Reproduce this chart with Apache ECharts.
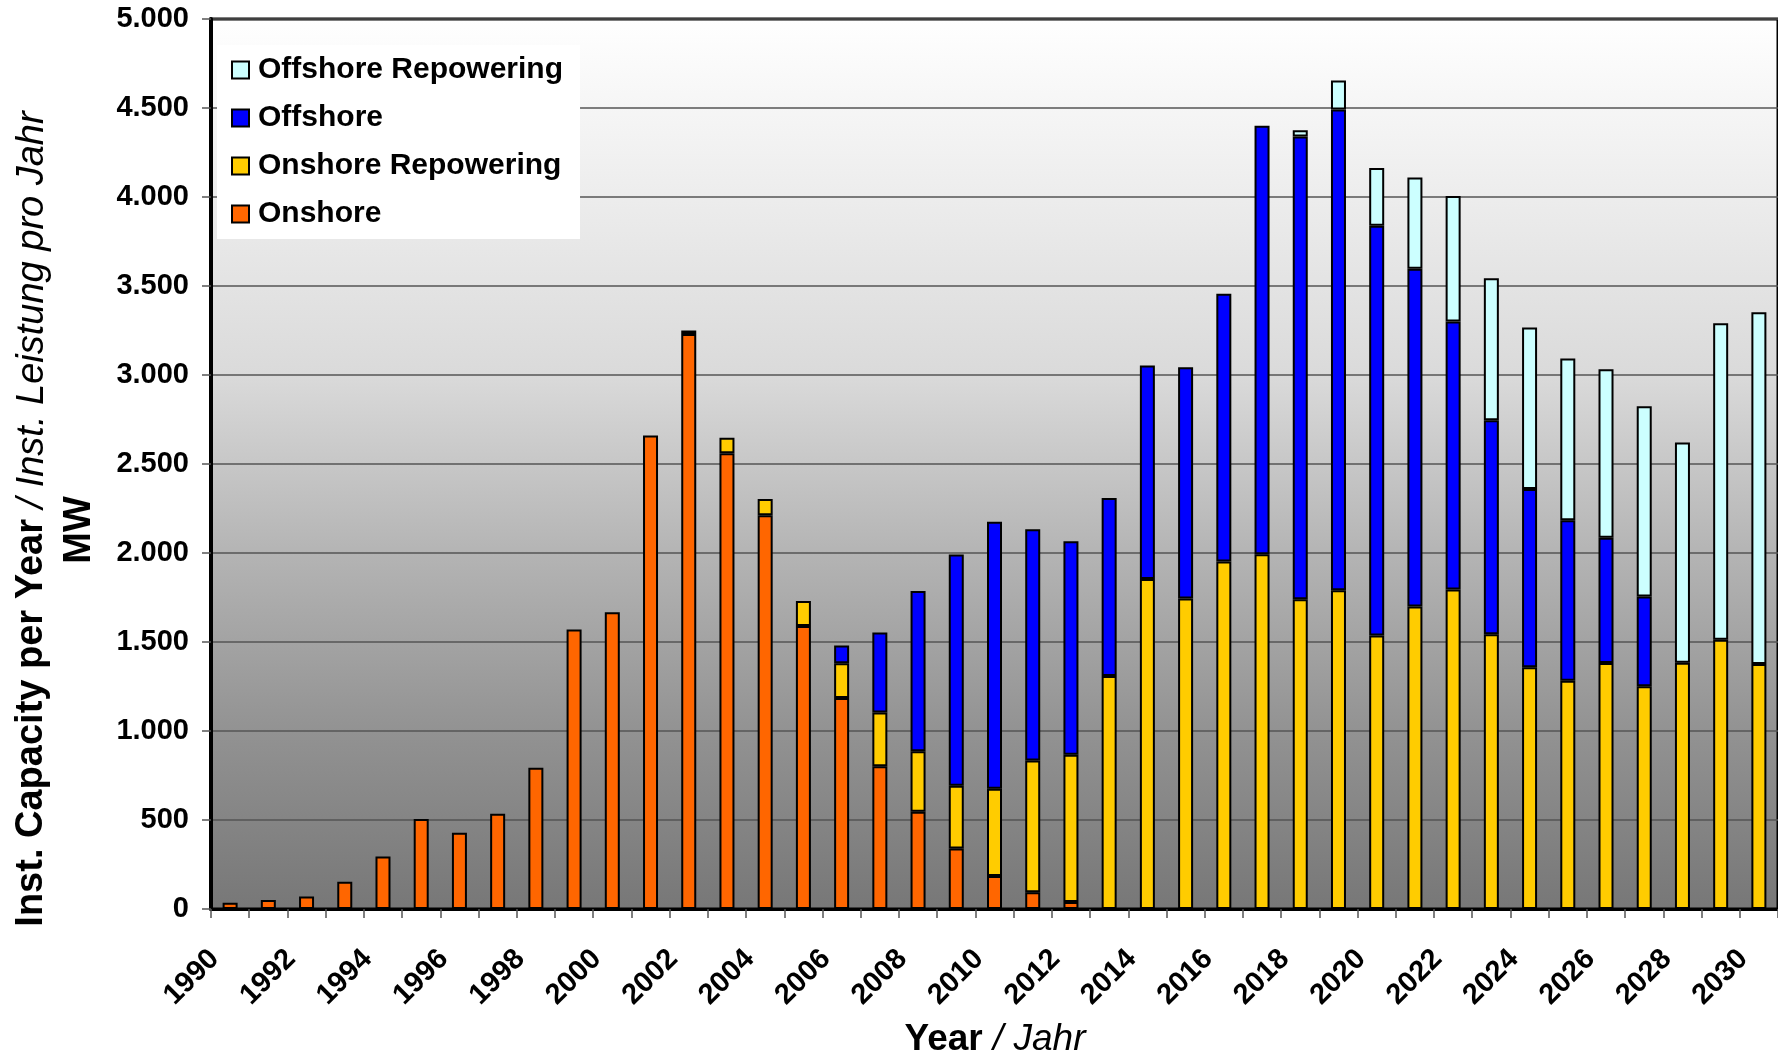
<!DOCTYPE html>
<html>
<head>
<meta charset="utf-8">
<script src="https://cdn.jsdelivr.net/npm/echarts@6/dist/echarts.min.js"></script>
<style>
html,body{margin:0;padding:0;background:#fff;}
#chart{width:1778px;height:1058px;}
</style>
</head>
<body>
<div id="chart"></div>
<script>
const years = ['1990','1991','1992','1993','1994','1995','1996','1997','1998','1999',
  '2000','2001','2002','2003','2004','2005','2006','2007','2008','2009',
  '2010','2011','2012','2013','2014','2015','2016','2017','2018','2019',
  '2020','2021','2022','2023','2024','2025','2026','2027','2028','2029','2030'];

const onshore = [35,50,70,153,295,505,428,535,794,1570,
  1667,2660,3230,2560,2212,1590,1185,802,546,340,
  185,94,40,0,0,0,0,0,0,0,
  0,0,0,0,0,0,0,0,0,0,0];

const onshoreRepowering = [0,0,0,0,0,0,0,0,0,0,
  0,0,20,88,92,140,195,302,340,352,
  490,740,826,1309,1854,1744,1952,1993,1740,1791,
  1536,1699,1795,1544,1358,1282,1382,1252,1384,1512,1377];

const offshore = [0,0,0,0,0,0,0,0,0,0,
  0,0,0,0,0,0,100,450,900,1300,
  1500,1300,1200,1000,1200,1300,1505,2407,2600,2700,
  2302,1898,1505,1202,1002,902,704,503,0,0,0];

const offshoreRepowering = [0,0,0,0,0,0,0,0,0,0,
  0,0,0,0,0,0,0,0,0,0,
  0,0,0,0,0,0,0,0,35,164,
  325,512,706,798,907,909,946,1070,1237,1779,1976];

const yTicks = [0,500,1000,1500,2000,2500,3000,3500,4000,4500,5000];

const FONT = "'Liberation Sans', Arial, sans-serif";
const chart = echarts.init(document.getElementById('chart'), null, {renderer:'canvas'});

function fmt(v){ return String(v).replace(/\B(?=(\d{3})+(?!\d))/g, '.'); }
function nz(arr){ return arr.map(v => v === 0 ? '-' : v); }

function bar(name, data, color){
  return {
    name: name, type: 'bar', stack: 'total', data: nz(data),
    barWidth: 15,
    itemStyle: {color: color, borderColor: '#000', borderWidth: 2},
    emphasis: {disabled: true}
  };
}

const option = {
  animation: false,
  backgroundColor: '#fff',
  grid: {
    left: 211, top: 19, bottom: 149, right: -3,
    show: true,
    borderColor: '#000', borderWidth: 3,
    backgroundColor: new echarts.graphic.LinearGradient(0,0,0,1,[
      {offset:0, color:'#ffffff'},
      {offset:0.4, color:'#dadada'},
      {offset:0.6, color:'#b4b4b4'},
      {offset:0.8, color:'#929292'},
      {offset:1, color:'#777777'}
    ])
  },
  legend: {
    data: ['Offshore Repowering','Offshore','Onshore Repowering','Onshore'],
    orient: 'vertical',
    left: 217, top: 45,
    padding: [10, 17, 10, 14],
    itemGap: 18,
    itemWidth: 17, itemHeight: 17,
    icon: 'rect',
    backgroundColor: '#fff',
    textStyle: {fontFamily: FONT, fontWeight: 'bold', fontSize: 30, color: '#000', padding: [0,0,0,4]},
    selectedMode: false
  },
  xAxis: {
    type: 'category', data: years, boundaryGap: true,
    axisLine: {show: true, lineStyle: {color: '#000', width: 3}},
    axisTick: {show: true, interval: 0, length: 9, lineStyle: {color: '#555', width: 1.5}},
    axisLabel: {
      interval: 1, rotate: 45, margin: 30,
      padding: [0, 22, 0, 0],
      fontFamily: FONT, fontWeight: 'bold', fontSize: 29, color: '#000'
    },
    splitLine: {show: false}
  },
  yAxis: {
    type: 'value', min: yTicks[0], max: yTicks[yTicks.length-1], interval: 500,
    axisLine: {show: true, lineStyle: {color: '#000', width: 4}},
    axisTick: {show: true, length: 9, lineStyle: {color: '#555', width: 1.5}},
    axisLabel: {
      margin: 22, formatter: fmt,
      fontFamily: FONT, fontWeight: 'bold', fontSize: 29, color: '#000'
    },
    splitLine: {show: true, lineStyle: {color: '#555', width: 1.5}}
  },
  series: [
    bar('Onshore', onshore, '#FF6600'),
    bar('Onshore Repowering', onshoreRepowering, '#FFCC00'),
    bar('Offshore', offshore, '#0000FF'),
    bar('Offshore Repowering', offshoreRepowering, '#CCFFFF')
  ],
  graphic: [
    {
      type: 'text', x: 32, y: 519, rotation: Math.PI/2,
      style: {
        text: '{b|Inst. Capacity per Year}{i| / Inst. Leistung pro Jahr}',
        align: 'center', verticalAlign: 'middle',
        rich: {
          b: {fontFamily: FONT, fontWeight: 'bold', fontSize: 38, fill: '#000', color:'#000'},
          i: {fontFamily: FONT, fontStyle: 'italic', fontSize: 38, fill: '#000', color:'#000'}
        }
      }
    },
    {
      type: 'text', x: 80, y: 530, rotation: Math.PI/2,
      style: {
        text: 'MW', align: 'center', verticalAlign: 'middle',
        font: "bold 38px 'Liberation Sans', Arial, sans-serif", fill: '#000'
      }
    },
    {
      type: 'text', x: 995, y: 1040,
      style: {
        text: '{b|Year}{i| / Jahr}',
        align: 'center', verticalAlign: 'middle',
        rich: {
          b: {fontFamily: FONT, fontWeight: 'bold', fontSize: 37, fill: '#000', color:'#000'},
          i: {fontFamily: FONT, fontStyle: 'italic', fontSize: 37, fill: '#000', color:'#000'}
        }
      }
    }
  ]
};
chart.setOption(option);
</script>
</body>
</html>
